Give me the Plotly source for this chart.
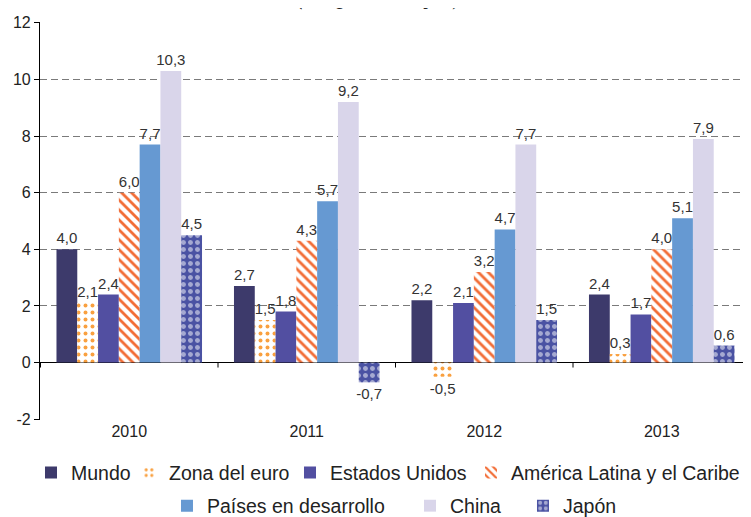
import plotly.graph_objects as go

years = ["2010", "2011", "2012", "2013"]
mundo = [4.0, 2.7, 2.2, 2.4]
zona_euro = [2.1, 1.5, -0.5, 0.3]
estados_unidos = [2.4, 1.8, 2.1, 1.7]
america_latina = [6.0, 4.3, 3.2, 4.0]
paises_desarrollo = [7.7, 5.7, 4.7, 5.1]
china = [10.3, 9.2, 7.7, 7.9]
japon = [4.5, -0.7, 1.5, 0.6]

y_ticks = [-2, 0, 2, 4, 6, 8, 10, 12]
y_tick_labels = [str(v) for v in y_ticks]

series = [
    ("Mundo", mundo, dict(color="#3D3A6B"), "legend", 53),
    ("Zona del euro", zona_euro,
     dict(color="#F9A03F", pattern=dict(shape=".", fillmode="replace", bgcolor="white",
                                        size=7, solidity=0.25)), "legend", 116),
    ("Estados Unidos", estados_unidos, dict(color="#524FA1"), "legend", 136),
    ("América Latina y el Caribe", america_latina,
     dict(color="#F26C35", pattern=dict(shape="\\", fillmode="replace", bgcolor="white",
                                        size=7, solidity=0.4)), "legend", 236),
    ("Países en desarrollo", paises_desarrollo, dict(color="#6699D2"), "legend2", 198),
    ("China", china, dict(color="#D9D5EA"), "legend2", 68),
    ("Japón", japon,
     dict(color="#4A52A3", pattern=dict(shape=".", fillmode="overlay", fgcolor="white",
                                        bgcolor="#4A52A3", size=7, solidity=0.4)), "legend2", 54),
]

fig = go.Figure()
for name, vals, marker, leg, lw in series:
    fig.add_trace(go.Bar(
        x=years, y=vals, name=name, marker=dict(line=dict(width=0), **marker),
        texttemplate="%{y:.1f}", textposition="outside", constraintext="none",
        cliponaxis=False,
        textfont=dict(family="Liberation Sans, Arial, sans-serif", size=15, color="#333333"),
        legend=leg, legendwidth=lw,
    ))

shapes = []
for i in range(len(years) + 1):
    shapes.append(dict(type="line", xref="x", yref="y", x0=i - 0.5, x1=i - 0.5,
                       ysizemode="pixel", yanchor=0, y0=0, y1=-5,
                       line=dict(color="black", width=1)))

# the page body adds an 8px offset, so the figure is 8px smaller than the window
fig.update_layout(
    width=743, height=509,
    margin=dict(l=32, r=0, t=14, b=97, autoexpand=False),
    paper_bgcolor="white", plot_bgcolor="white",
    separators=",.",
    barmode="group", bargap=0.18, bargroupgap=0,
    font=dict(family="Liberation Sans, Arial, sans-serif", color="#222222"),
    showlegend=True,
    xaxis=dict(showline=False, ticks="", showgrid=False, zeroline=False,
               tickfont=dict(size=16, color="#222222")),
    yaxis=dict(range=[-2.03, 12.03], tickvals=y_ticks, ticktext=y_tick_labels,
               showline=True, linecolor="black",
               linewidth=1.2, ticks="outside", ticklen=5, tickcolor="black",
               showgrid=True, gridcolor="#7A7A7A", gridwidth=1, griddash="7px,4px",
               zeroline=True, zerolinecolor="black", zerolinewidth=1,
               tickfont=dict(size=16, color="#222222")),
    legend=dict(orientation="h", x=-0.01266, xanchor="left", y=-0.133, yanchor="middle",
                font=dict(size=19.5, color="#222222"), bgcolor="rgba(0,0,0,0)"),
    legend2=dict(orientation="h", x=0.1786, xanchor="left", y=-0.216, yanchor="middle",
                 font=dict(size=19.5, color="#222222"), bgcolor="rgba(0,0,0,0)"),
    shapes=shapes,
    annotations=[dict(text="(En porcentajes)", xref="paper", yref="paper", x=0.477,
                      y=1.0251, xanchor="center", yanchor="bottom", showarrow=False,
                      font=dict(family="Liberation Serif, Times New Roman, serif", size=25,
                                style="italic", color="#222222"))],
)

fig.write_html("out.html")
